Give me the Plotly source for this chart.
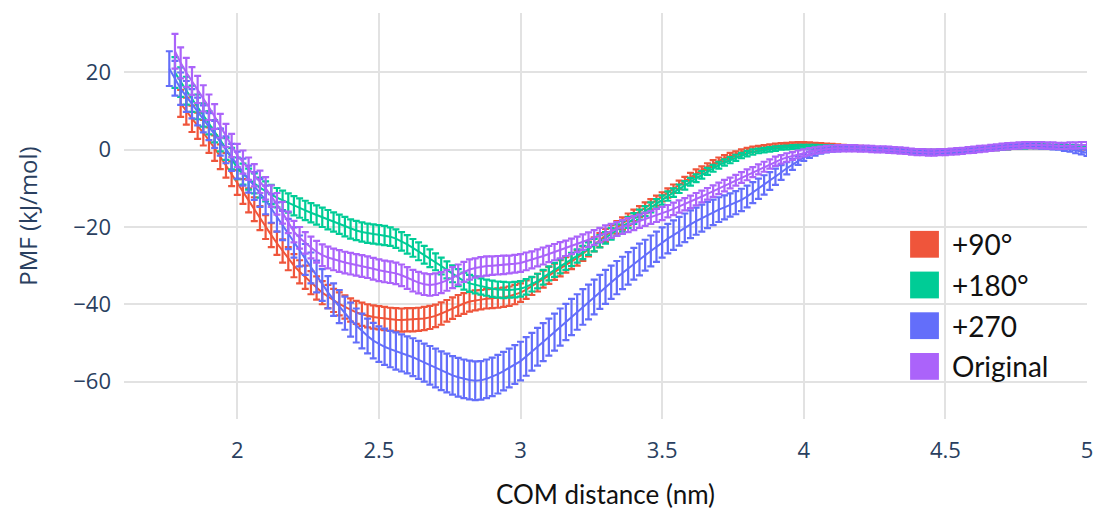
import plotly.graph_objects as go

# ---------------- data ----------------
distance_nm = [
    1.76, 1.78, 1.80, 1.82, 1.84, 1.86, 1.88, 1.90, 1.92, 1.94, 1.96, 1.98,
    2.00, 2.02, 2.04, 2.06, 2.08, 2.10, 2.12, 2.14, 2.16, 2.18,
    2.20, 2.22, 2.24, 2.26, 2.28, 2.30, 2.32, 2.34, 2.36, 2.38,
    2.40, 2.42, 2.44, 2.46, 2.48, 2.50, 2.52, 2.54, 2.56, 2.58,
    2.60, 2.62, 2.64, 2.66, 2.68, 2.70, 2.72, 2.74, 2.76, 2.78,
    2.80, 2.82, 2.84, 2.86, 2.88, 2.90, 2.92, 2.94, 2.96, 2.98,
    3.00, 3.02, 3.04, 3.06, 3.08, 3.10, 3.12, 3.14, 3.16, 3.18,
    3.20, 3.22, 3.24, 3.26, 3.28, 3.30, 3.32, 3.34, 3.36, 3.38,
    3.40, 3.42, 3.44, 3.46, 3.48, 3.50, 3.52, 3.54, 3.56, 3.58,
    3.60, 3.62, 3.64, 3.66, 3.68, 3.70, 3.72, 3.74, 3.76, 3.78,
    3.80, 3.82, 3.84, 3.86, 3.88, 3.90, 3.92, 3.94, 3.96, 3.98,
    4.00, 4.02, 4.04, 4.06, 4.08, 4.10, 4.12, 4.14, 4.16, 4.18,
    4.20, 4.22, 4.24, 4.26, 4.28, 4.30, 4.32, 4.34, 4.36, 4.38,
    4.40, 4.42, 4.44, 4.46, 4.48, 4.50, 4.52, 4.54, 4.56, 4.58,
    4.60, 4.62, 4.64, 4.66, 4.68, 4.70, 4.72, 4.74, 4.76, 4.78,
    4.80, 4.82, 4.84, 4.86, 4.88, 4.90, 4.92, 4.94, 4.96, 4.98,
    5.00,
]

pmf_p90 = [
    None, None, 12, 10, 8, 6.2, 4.4, 2.5, 0.4, -1.8, -4, -6.2,
    -8.5, -10.8, -13.1, -15.4, -17.7, -20, -22.1, -24.2, -26.2, -28.2,
    -30, -31.6, -33, -34.4, -35.8, -37, -38, -39, -39.9, -40.7,
    -41.5, -42.1, -42.6, -43, -43.3, -43.5, -43.7, -43.9, -44, -44.1,
    -44, -44, -43.9, -43.7, -43.4, -43, -42.4, -41.7, -41, -40.3,
    -39.8, -39.3, -39, -38.8, -38.6, -38.5, -38.4, -38.2, -37.9, -37.5,
    -37, -36.2, -35.3, -34.4, -33.5, -32.5, -31.6, -30.7, -29.8, -28.9,
    -28, -26.9, -25.7, -24.5, -23.4, -22.2, -21.2, -20.1, -19.1, -18,
    -17, -16, -15, -14.1, -13.2, -12.2, -11.2, -10.1, -9.1, -8,
    -7, -6.1, -5.2, -4.4, -3.6, -2.8, -2.2, -1.6, -1.1, -0.6,
    -0.2, 0.1, 0.4, 0.6, 0.8, 1, 1.2, 1.3, 1.4, 1.5,
    1.5, 1.4, 1.3, 1.2, 1.1, 1, 0.9, 0.8, 0.7, 0.6,
    0.5, 0.4, 0.3, 0.2, 0.1, 0, -0.1, -0.2, -0.3, -0.4,
    -0.5, -0.5, -0.5, -0.5, -0.5, -0.5, -0.4, -0.3, -0.2, -0.1,
    0, 0.1, 0.2, 0.3, 0.4, 0.5, 0.6, 0.7, 0.8, 0.9,
    0.9, 0.9, 0.9, 0.8, 0.8, 0.8, 0.7, 0.7, 0.6, 0.6,
    0.6,
]
err_p90 = [
    0, 0, 3.5, 3.5, 3.4, 3.4, 3.3, 3.3, 3.3, 3.2, 3.2, 3.2,
    3.2, 3.2, 3.1, 3.1, 3.1, 3.1, 3.1, 3.0, 3.0, 3.0,
    3.0, 3.0, 3.0, 3.0, 3.0, 3.0, 3.0, 3.0, 3.0, 3.0,
    3.0, 3.0, 3.0, 3.0, 3.0, 3.0, 3.0, 3.0, 3.0, 3.0,
    3.0, 3.0, 3.0, 3.0, 3.0, 2.9, 2.9, 2.8, 2.8, 2.7,
    2.7, 2.6, 2.6, 2.5, 2.5, 2.5, 2.5, 2.5, 2.5, 2.5,
    2.4, 2.4, 2.3, 2.3, 2.2, 2.2, 2.1, 2.1, 2.0, 2.0,
    2.0, 1.9, 1.9, 1.8, 1.8, 1.7, 1.7, 1.6, 1.6, 1.5,
    1.5, 1.4, 1.4, 1.3, 1.3, 1.2, 1.2, 1.1, 1.1, 1.0,
    1.0, 1.0, 0.9, 0.9, 0.9, 0.8, 0.8, 0.8, 0.7, 0.7,
    0.7, 0.7, 0.6, 0.6, 0.6, 0.6, 0.5, 0.5, 0.5, 0.5,
    0.5, 0.5, 0.5, 0.5, 0.5, 0.5, 0.5, 0.5, 0.5, 0.5,
    0.5, 0.5, 0.5, 0.5, 0.5, 0.5, 0.5, 0.5, 0.5, 0.5,
    0.5, 0.5, 0.5, 0.5, 0.5, 0.5, 0.5, 0.5, 0.5, 0.5,
    0.5, 0.5, 0.5, 0.5, 0.5, 0.5, 0.5, 0.5, 0.5, 0.5,
    0.5, 0.5, 0.5, 0.5, 0.5, 0.5, 0.5, 0.5, 0.5, 0.5,
    0.5,
]

pmf_p180 = [
    None, 20, 17.5, 15.3, 13.2, 11.1, 9, 7, 4.8, 2.5, 0.2, -2.3,
    -4.8, -6.3, -7.6, -8.7, -9.8, -10.8, -11.6, -12.4, -13.1, -13.8,
    -14.5, -15.1, -15.7, -16.3, -16.9, -17.5, -18.1, -18.7, -19.3, -19.9,
    -20.5, -20.9, -21.3, -21.6, -21.8, -22, -22.2, -22.5, -23, -23.7,
    -24.5, -25.4, -26.3, -27.2, -28.1, -29, -30.1, -31.1, -32.1, -33.1,
    -34, -34.6, -35, -35.4, -35.7, -36, -36.2, -36.3, -36.3, -36.2,
    -36, -35.5, -34.8, -34, -33, -32, -31.1, -30.2, -29.3, -28.4,
    -27.5, -26.6, -25.6, -24.7, -23.7, -22.8, -21.8, -20.8, -19.8, -18.8,
    -17.8, -16.8, -15.9, -14.9, -14, -13, -12, -11.1, -10.1, -9.2,
    -8.3, -7.4, -6.5, -5.6, -4.8, -4, -3.3, -2.7, -2.1, -1.5,
    -1, -0.6, -0.3, -0.1, 0.1, 0.3, 0.5, 0.6, 0.7, 0.8,
    0.8, 0.8, 0.8, 0.7, 0.7, 0.7, 0.6, 0.6, 0.5, 0.5,
    0.4, 0.3, 0.2, 0.1, 0, -0.1, -0.2, -0.3, -0.3, -0.4,
    -0.4, -0.5, -0.5, -0.5, -0.5, -0.5, -0.4, -0.3, -0.2, -0.1,
    0, 0.1, 0.2, 0.3, 0.4, 0.5, 0.6, 0.7, 0.8, 0.8,
    0.9, 0.9, 0.9, 0.9, 0.8, 0.8, 0.8, 0.7, 0.7, 0.7,
    0.7,
]
err_p180 = [
    0, 4.0, 3.8, 3.6, 3.4, 3.2, 3.0, 3.0, 2.9, 2.9, 2.8, 2.8,
    2.8, 2.7, 2.7, 2.6, 2.6, 2.6, 2.5, 2.5, 2.5, 2.5,
    2.5, 2.5, 2.5, 2.5, 2.5, 2.5, 2.5, 2.5, 2.5, 2.5,
    2.5, 2.5, 2.5, 2.5, 2.5, 2.5, 2.5, 2.4, 2.4, 2.4,
    2.4, 2.3, 2.3, 2.3, 2.3, 2.2, 2.2, 2.2, 2.2, 2.2,
    2.2, 2.2, 2.2, 2.1, 2.1, 2.1, 2.1, 2.1, 2.0, 2.0,
    2.0, 2.0, 1.9, 1.9, 1.9, 1.8, 1.8, 1.8, 1.8, 1.7,
    1.7, 1.7, 1.6, 1.6, 1.6, 1.5, 1.5, 1.5, 1.4, 1.4,
    1.4, 1.3, 1.3, 1.3, 1.2, 1.2, 1.2, 1.1, 1.1, 1.1,
    1.0, 1.0, 1.0, 0.9, 0.9, 0.9, 0.8, 0.8, 0.8, 0.7,
    0.7, 0.7, 0.6, 0.6, 0.6, 0.6, 0.5, 0.5, 0.5, 0.5,
    0.5, 0.5, 0.5, 0.5, 0.5, 0.5, 0.5, 0.5, 0.5, 0.5,
    0.5, 0.5, 0.5, 0.5, 0.5, 0.5, 0.5, 0.5, 0.5, 0.5,
    0.5, 0.5, 0.5, 0.5, 0.5, 0.5, 0.5, 0.5, 0.5, 0.5,
    0.5, 0.5, 0.5, 0.5, 0.5, 0.5, 0.5, 0.5, 0.5, 0.5,
    0.5, 0.5, 0.5, 0.5, 0.5, 0.5, 0.5, 0.5, 0.5, 0.5,
    0.5,
]

pmf_p270 = [
    21, 18.5, 15.8, 13.8, 11.9, 9.9, 8, 6, 4, 2, 0, -2,
    -4, -5.8, -7.6, -9.4, -11.2, -13, -15.2, -17.4, -19.6, -21.8,
    -24, -26.2, -28.4, -30.6, -32.8, -35, -36.9, -38.8, -40.6, -42.3,
    -44, -45.5, -46.9, -48.2, -49.4, -50.3, -51, -51.6, -52.1, -52.6,
    -53.1, -53.7, -54.4, -55.1, -55.8, -56.5, -57.2, -57.8, -58.4, -58.9,
    -59.3, -59.6, -59.8, -59.7, -59.3, -58.8, -58.1, -57.3, -56.5, -55.6,
    -54.7, -53.5, -52.3, -51, -49.8, -48.5, -47.2, -45.9, -44.6, -43.3,
    -42, -40.7, -39.4, -38.1, -36.8, -35.5, -34.3, -33.1, -31.9, -30.7,
    -29.5, -28.4, -27.3, -26.2, -25.1, -24, -23, -22.1, -21.1, -20.2,
    -19.3, -18.5, -17.7, -16.9, -16.2, -15.5, -14.9, -14.3, -13.7, -13,
    -12.1, -11.1, -10.1, -9.1, -8.1, -7, -5.9, -4.8, -3.8, -2.8,
    -2, -1.3, -0.8, -0.4, -0.1, 0, 0.1, 0.2, 0.3, 0.3,
    0.3, 0.3, 0.2, 0.1, 0.1, 0, -0.1, -0.2, -0.3, -0.4,
    -0.5, -0.6, -0.6, -0.6, -0.6, -0.6, -0.5, -0.4, -0.3, -0.1,
    0, 0.2, 0.3, 0.4, 0.5, 0.6, 0.7, 0.8, 0.9, 1,
    1, 0.9, 0.8, 0.7, 0.6, 0.5, 0.3, 0.1, -0.2, -0.5,
    -0.8,
]
err_p270 = [
    4.5, 4.5, 4.2, 4.0, 3.8, 3.6, 3.5, 3.5, 3.5, 3.5, 3.5, 3.5,
    3.5, 3.5, 3.5, 3.6, 3.6, 3.7, 3.7, 3.8, 3.8, 3.9,
    3.9, 4.0, 4.0, 4.0, 4.1, 4.1, 4.2, 4.2, 4.3, 4.3,
    4.4, 4.4, 4.5, 4.5, 4.6, 4.6, 4.7, 4.7, 4.8, 4.8,
    4.8, 4.9, 4.9, 4.9, 5.0, 5.0, 5.0, 5.0, 5.0, 5.0,
    5.0, 5.0, 5.0, 5.0, 5.0, 5.0, 5.0, 5.0, 5.0, 5.0,
    5.0, 5.0, 4.9, 4.9, 4.9, 4.8, 4.8, 4.8, 4.7, 4.7,
    4.6, 4.6, 4.5, 4.5, 4.4, 4.4, 4.3, 4.3, 4.2, 4.2,
    4.1, 4.1, 4.0, 4.0, 3.9, 3.9, 3.8, 3.8, 3.7, 3.7,
    3.6, 3.5, 3.5, 3.4, 3.3, 3.2, 3.1, 3.0, 3.0, 2.9,
    2.8, 2.7, 2.6, 2.5, 2.3, 2.1, 1.9, 1.6, 1.4, 1.1,
    0.9, 0.8, 0.7, 0.6, 0.6, 0.5, 0.5, 0.5, 0.5, 0.5,
    0.5, 0.5, 0.5, 0.5, 0.5, 0.5, 0.5, 0.5, 0.5, 0.5,
    0.5, 0.5, 0.5, 0.5, 0.5, 0.5, 0.5, 0.5, 0.5, 0.5,
    0.5, 0.5, 0.5, 0.5, 0.5, 0.5, 0.5, 0.5, 0.5, 0.5,
    0.5, 0.5, 0.5, 0.5, 0.5, 0.5, 0.6, 0.6, 0.7, 0.7,
    0.8,
]

pmf_orig = [
    None, 25.5, 22.5, 20, 17.8, 15.6, 13.3, 11, 8.6, 6.2, 3.7, 1.1,
    -1.5, -3.2, -4.9, -6.6, -8.3, -10, -12, -14, -16.3, -18.8,
    -21.2, -22.8, -24.1, -25.3, -26.4, -27.3, -27.9, -28.4, -28.8, -29.2,
    -29.5, -29.8, -30.1, -30.4, -30.8, -31.2, -31.5, -31.7, -32, -32.5,
    -33.2, -33.9, -34.4, -34.8, -35, -34.8, -34.4, -33.8, -33.1, -32.3,
    -31.6, -31, -30.6, -30.3, -30.1, -30, -29.9, -29.8, -29.7, -29.5,
    -29.3, -28.9, -28.5, -28, -27.5, -27, -26.5, -26, -25.5, -25,
    -24.5, -23.9, -23.3, -22.7, -22.1, -21.5, -21, -20.5, -20, -19.5,
    -19, -18.5, -18, -17.5, -17, -16.5, -15.9, -15.3, -14.7, -14.1,
    -13.5, -12.8, -12.1, -11.4, -10.7, -10, -9.3, -8.6, -7.9, -7.2,
    -6.5, -5.8, -5.1, -4.4, -3.7, -3, -2.5, -2, -1.6, -1.2,
    -0.8, -0.5, -0.2, 0, 0.2, 0.3, 0.4, 0.4, 0.4, 0.4,
    0.3, 0.3, 0.2, 0.1, 0.1, 0, -0.1, -0.2, -0.3, -0.5,
    -0.6, -0.6, -0.7, -0.7, -0.6, -0.6, -0.5, -0.4, -0.3, -0.1,
    0, 0.2, 0.3, 0.5, 0.6, 0.8, 0.9, 1, 1.1, 1.2,
    1.2, 1.2, 1.2, 1.1, 1.1, 1, 1, 1.1, 1.1, 1.2,
    1.2,
]
err_orig = [
    0, 4.5, 4.0, 3.8, 3.6, 3.5, 3.4, 3.3, 3.2, 3.1, 3.0, 3.0,
    3.0, 3.0, 2.9, 2.9, 2.9, 2.9, 2.8, 2.8, 2.8, 2.8,
    2.8, 2.8, 2.8, 2.8, 2.8, 2.8, 2.8, 2.8, 2.8, 2.8,
    2.8, 2.8, 2.8, 2.8, 2.8, 2.8, 2.8, 2.8, 2.8, 2.8,
    2.8, 2.8, 2.8, 2.8, 2.8, 2.8, 2.7, 2.7, 2.7, 2.6,
    2.6, 2.6, 2.5, 2.5, 2.5, 2.4, 2.4, 2.4, 2.3, 2.3,
    2.3, 2.3, 2.2, 2.2, 2.2, 2.1, 2.1, 2.1, 2.0, 2.0,
    2.0, 2.0, 1.9, 1.9, 1.9, 1.9, 1.8, 1.8, 1.8, 1.8,
    1.8, 1.7, 1.7, 1.7, 1.7, 1.7, 1.6, 1.6, 1.6, 1.6,
    1.6, 1.6, 1.5, 1.5, 1.5, 1.5, 1.5, 1.4, 1.4, 1.4,
    1.4, 1.3, 1.3, 1.3, 1.2, 1.2, 1.1, 1.1, 1.0, 1.0,
    0.9, 0.9, 0.8, 0.8, 0.8, 0.8, 0.8, 0.8, 0.8, 0.8,
    0.8, 0.8, 0.8, 0.8, 0.8, 0.8, 0.8, 0.8, 0.8, 0.8,
    0.8, 0.8, 0.8, 0.8, 0.8, 0.8, 0.8, 0.8, 0.8, 0.8,
    0.8, 0.8, 0.8, 0.8, 0.8, 0.8, 0.8, 0.8, 0.8, 0.8,
    0.8, 0.8, 0.8, 0.8, 0.8, 0.8, 0.8, 0.8, 0.8, 0.8,
    0.8,
]

series_names = ["+90°", "+180°", "+270", "Original"]
series_colors = ["#EF553B", "#00CC96", "#636EFA", "#AB63FA"]
series_values = [pmf_p90, pmf_p180, pmf_p270, pmf_orig]
series_errors = [err_p90, err_p180, err_p270, err_orig]

x_ticks = [2, 2.5, 3, 3.5, 4, 4.5, 5]
y_ticks = [-60, -40, -20, 0, 20]

# ---------------- figure ----------------
W, H = 1105, 516
PL, PR, PT, PB = 124, 1093, 13, 422   # plot-area pixel box

fig = go.Figure()
for name, color, yv, ev in zip(series_names, series_colors, series_values, series_errors):
    fig.add_trace(go.Scatter(
        x=distance_nm, y=yv, name=name, mode="lines",
        line=dict(color=color, width=2),
        error_y=dict(type="data", array=ev, visible=True, color=color,
                     thickness=2.2, width=3.5),
        showlegend=False,
    ))

# custom legend (big squares + text)
def px_to_paper_x(px):
    return (px - PL) / (PR - PL)

def px_to_paper_y(py):
    return (PB - py) / (PB - PT)

row_centers = [246, 287, 328, 369]
sq_x0, sq_x1, sq_half = 915, 944, 13.5
text_x = 955
for name, color, cy in zip(series_names, series_colors, row_centers):
    fig.add_shape(type="rect", xref="paper", yref="paper",
                  x0=px_to_paper_x(sq_x0), x1=px_to_paper_x(sq_x1),
                  y0=px_to_paper_y(cy + sq_half), y1=px_to_paper_y(cy - sq_half),
                  fillcolor=color, line=dict(width=0), layer="above")
    fig.add_annotation(xref="paper", yref="paper",
                       x=px_to_paper_x(text_x), y=px_to_paper_y(cy),
                       xanchor="left", yanchor="middle", showarrow=False,
                       text=name, font=dict(family="Lato", size=28, color="#111111"))

fig.update_layout(
    template="plotly_white",
    width=W, height=H,
    margin=dict(l=PL, r=W - PR, t=PT, b=H - PB),
    plot_bgcolor="white", paper_bgcolor="white",
    font=dict(family="Open Sans", color="#2a3f5f"),
    showlegend=False,
)
fig.update_xaxes(
    range=[1.6, 5.0], tickvals=x_ticks, ticktext=[str(v) for v in x_ticks],
    showgrid=True, gridcolor="#E2E2E2", gridwidth=1.5, zeroline=False,
    tickfont=dict(size=22, color="#2a3f5f"), ticklabelstandoff=16,
    title=dict(text="COM distance (nm)", standoff=22,
               font=dict(family="Lato", size=26, color="#111111")),
)
fig.update_yaxes(
    range=[-69.7, 35.4], tickvals=y_ticks,
    showgrid=True, gridcolor="#E2E2E2", gridwidth=1.5,
    zeroline=True, zerolinecolor="#E2E2E2", zerolinewidth=2,
    tickfont=dict(size=22, color="#2a3f5f"), ticklabelstandoff=12,
    title=dict(text="PMF (kJ/mol)", standoff=28,
               font=dict(size=24, color="#2a3f5f")),
)

fig.write_html("out.html")
